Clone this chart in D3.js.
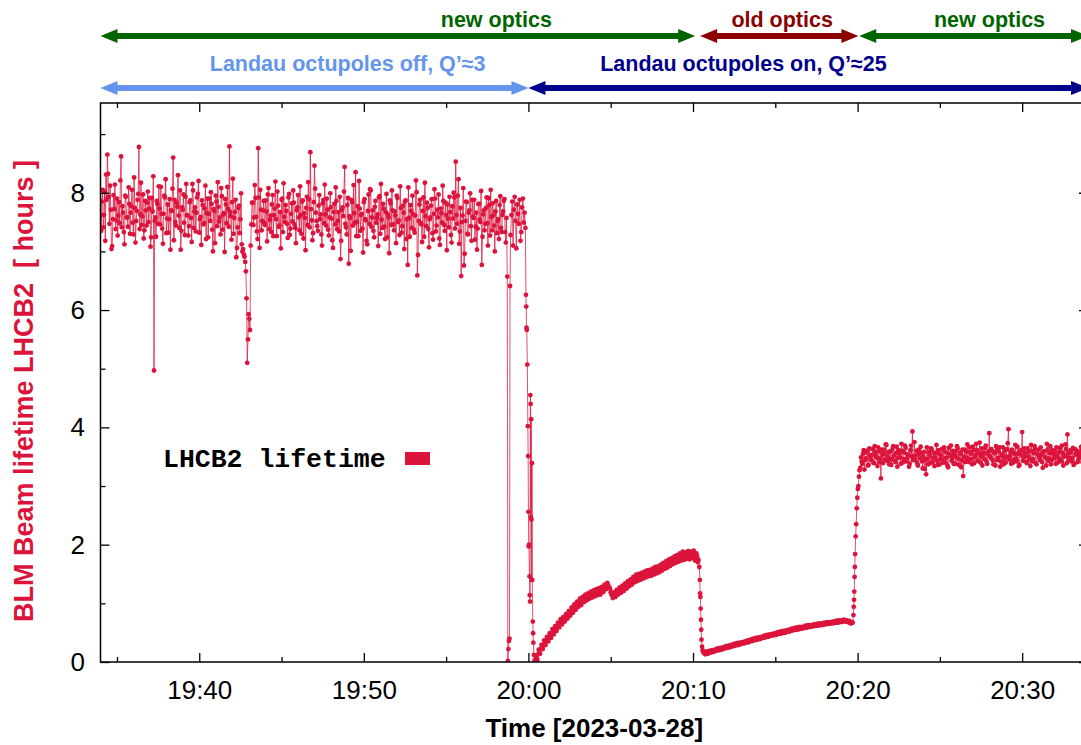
<!DOCTYPE html>
<html><head><meta charset="utf-8">
<script src="https://cdn.jsdelivr.net/npm/d3@7"></script>
<style>body{margin:0;background:#fff;} svg{display:block;}</style>
</head><body>
<svg id="chart" width="1081" height="745"></svg>
<script>
// ---------------- DATA ----------------
const dayStart = "2023-03-28 19:34:00";   // time origin, seconds below are counted from here
const axisStart = "2023-03-28 19:34:00";
const axisEnd   = "2023-03-28 20:34:00";
const yMax = 9.53;
const yMajorTicks = [0, 2, 4, 6, 8];
const yMinorTicks = [1, 3, 5, 7, 9];
const xMajorTicks = ["19:40", "19:50", "20:00", "20:10", "20:20", "20:30"];
const xMinorTicks = ["19:35", "19:45", "19:55", "20:05", "20:15", "20:25"];

// Segment A: octupoles off, samples every 5 s from 19:34:00
const segAStart = 0, segAStep = 5;
const segAValues = [
 7.62,7.85,7.41,8.02,8.31,8.65,7.93,8.12,7.04,7.55,7.72,7.38,7.90,7.61,7.48,8.62,7.77,7.33,7.95,7.58,
 7.42,7.81,7.66,8.05,7.29,7.74,7.52,7.88,8.78,7.63,7.45,7.97,7.36,7.70,7.83,7.50,7.91,7.24,7.68,4.97,
 7.58,7.86,7.47,7.73,8.10,7.39,7.64,7.92,7.31,7.80,7.55,7.03,7.69,8.60,7.88,7.44,7.76,7.61,8.04,7.35,
 7.71,7.49,7.93,7.62,7.27,7.84,7.57,8.15,7.40,7.75,7.66,7.98,7.32,7.59,7.87,7.46,7.73,7.21,7.90,7.64,
 7.52,7.81,7.00,7.69,7.95,7.43,7.76,7.58,8.08,7.37,7.65,7.89,7.48,7.72,8.79,7.60,7.84,7.30,7.67,6.90,
 7.41,7.78,7.55,7.12,7.04,6.91,6.66,5.10,5.93,5.66,7.46,7.83,7.58,7.91,7.34,8.76,7.06,7.71,7.52,7.86,
 7.45,7.68,7.97,7.38,7.61,7.80,7.26,7.73,7.55,8.02,7.42,7.67,7.88,7.33,7.59,7.79,7.47,7.92,7.28,7.64,
 7.51,7.83,7.40,7.70,7.96,7.36,7.62,7.85,7.22,7.57,7.74,7.45,7.89,8.69,7.53,7.31,8.46,7.66,7.43,7.78,
 7.55,7.29,7.82,7.48,7.63,7.90,7.37,7.58,7.75,7.19,7.67,7.46,7.86,7.52,7.34,6.87,7.71,7.60,8.44,7.41,
 7.79,6.79,7.57,7.88,7.44,7.65,8.35,7.50,7.26,7.73,7.62,7.39,7.84,7.55,7.18,7.69,7.47,8.04,7.58,7.35,
 7.76,7.49,7.63,7.92,7.30,7.54,7.81,7.42,7.67,7.24,7.58,7.87,7.45,7.70,7.36,7.61,7.95,7.50,7.28,7.74,
 7.43,7.66,7.85,7.21,6.77,7.57,7.79,7.40,7.63,7.32,8.21,6.59,7.52,7.88,7.46,7.69,7.25,7.60,7.83,7.38,
 7.55,7.78,7.31,7.64,7.90,7.44,7.58,7.22,7.73,7.49,7.86,7.35,7.62,7.80,7.41,7.67,7.15,7.56,7.92,8.53,
 7.47,8.23,7.34,6.58,7.61,6.76,7.52,7.84,7.29,7.70,7.43,7.88,7.57,7.20,7.66,7.39,7.81,7.50,6.77,7.63,
 7.36,7.74,7.48,7.91,7.27,7.59,7.82,7.44,7.68,7.31,7.55,7.79,7.40,7.62,7.86,7.33,7.57
];
// Segment A, in-between samples (offset 2.5 s)
const segA2Start = 2.5, segA2Step = 5;
const segA2Values = [
 7.35,8.05,7.62,7.18,7.88,8.32,7.47,7.71,7.09,7.96,8.14,7.53,7.27,7.84,8.21,7.41,7.66,7.12,7.93,7.58,
 8.09,7.30,7.77,7.49,8.26,7.15,7.69,7.98,7.38,8.17,7.60,7.22,7.86,7.44,8.02,7.73,7.08,7.91,8.28,7.52,
 7.25,7.81,8.11,7.46,7.64,7.13,7.95,8.23,7.56,7.32,7.89,7.70,8.07,7.19,7.50,7.83,8.30,7.40,7.03,7.75,
 7.97,7.28,8.15,7.61,7.43,7.87,7.16,8.04,7.68,7.34,7.92,8.20,7.55,7.11,7.79,7.48,8.12,7.65,7.24,7.90,
 8.01,7.37,7.72,7.14,7.85,8.18,7.51,7.29,7.94,7.63,6.99,7.80,8.10,7.42,7.67,7.20,8.24,7.57,7.88,7.06,
 7.74,7.31,7.99,7.00,6.95,6.82,6.20,5.50,5.85,7.10,7.83,7.45,8.13,7.59,7.21,7.92,8.05,7.36,7.70,7.48,
 7.87,7.17,8.08,7.54,7.33,7.96,7.62,8.19,7.26,7.78,7.44,7.05,7.90,8.16,7.50,7.69,7.23,7.98,7.39,7.82,
 8.04,7.46,7.14,7.75,7.58,8.11,7.30,7.87,7.65,7.02,7.93,8.18,7.41,7.72,7.19,7.84,8.07,7.52,7.35,7.96,
 7.63,7.10,7.88,8.14,7.44,7.71,7.27,7.99,7.56,7.06,7.81,8.09,7.38,7.67,7.93,7.18,7.75,8.02,7.47,7.29,
 7.91,7.60,7.01,7.84,8.13,7.49,7.26,7.77,8.20,7.35,7.64,6.98,7.89,7.53,7.12,7.97,8.06,7.42,7.70,7.24,
 7.86,7.57,7.09,7.94,8.15,7.40,7.73,7.21,7.98,7.63,6.97,7.82,8.04,7.46,7.68,7.14,7.91,7.53,8.11,7.32,
 7.78,7.04,7.87,7.55,8.09,7.25,7.69,7.95,7.37,7.61,8.01,6.94,7.80,7.48,7.16,7.92,8.17,7.43,7.74,7.07,
 7.58,7.89,7.20,8.06,7.34,7.71,7.97,7.11,7.65,8.12,7.45,7.83,7.02,7.56,7.93,7.28,7.77,8.00,7.39,7.62,
 7.95,7.13,7.74,7.50,8.08,6.96,7.85,7.30,7.66,7.99,7.18,7.59,7.88,7.42,7.03,7.81,7.54,8.03,7.25,7.70,
 7.47,7.92,7.10,7.79,8.05,7.36,7.61,7.00,7.86,7.52,7.21,7.94,7.33,7.68,7.89,7.15
];
// First short beam-loss spikes (irregular timing)
const drop1Times  = [1483, 1485, 1487, 1489, 1491, 1493];
const drop1Values = [6.57, 0.02, 0.22, 0.36, 0.40, 6.41];
// Segment B: short recovery before 20:00, every 3 s
const segBStart = 1495, segBStep = 3;
const segBValues = [7.28,7.62,7.85,7.10,7.71,7.93,7.52,7.05,7.80,7.64,7.47,7.88,7.18,7.33,7.75,7.90,7.49,7.66,7.40];
// Drop when octupoles switched on
const drop2Times  = [1551,1552,1553,1554,1556,1558,1559,1560,1561,1562,1564,1565,1566,1567,1568,1569,1570,1571,1572,1573,1574,1576,1577,1578,1580,1583];
const drop2Values = [6.26,6.06,5.70,5.66,5.07,4.02,3.51,2.56,1.97,2.00,1.46,1.14,1.03,4.55,4.40,2.47,4.14,2.43,1.40,3.39,1.40,0.69,0.49,0.33,0.12,0.03];
// Segment C: slow recovery, every 5 s
const segCStart = 1585, segCStep = 5;
const segCValues = [
 0.02,0.07,0.13,0.17,0.22,0.25,0.30,0.33,0.36,0.39,0.42,0.45,0.49,0.51,0.54,0.58,0.60,0.63,0.66,0.68,
 0.70,0.74,0.75,0.78,0.81,0.83,0.87,0.88,0.91,0.94,0.95,0.99,1.01,1.03,1.04,1.07,1.08,1.11,1.10,1.13,
 1.15,1.14,1.17,1.16,1.19,1.18,1.21,1.19,1.22,1.24,1.26,1.28,1.30,1.32,1.27,1.19,1.14,1.13,1.15,1.17,
 1.19,1.21,1.23,1.22,1.26,1.27,1.30,1.31,1.33,1.35,1.37,1.38,1.41,1.42,1.44,1.43,1.46,1.45,1.48,1.47,
 1.50,1.48,1.51,1.52,1.50,1.53,1.55,1.54,1.57,1.58,1.56,1.60,1.62,1.61,1.64,1.66,1.65,1.69,1.70,1.68,
 1.72,1.74,1.73,1.76,1.75,1.79,1.77,1.80,1.78,1.82,1.79,1.84,1.80,1.83,1.78,1.85,1.81,1.76,1.80,1.74
];
const segC2Start = 1587.5, segC2Step = 5;
const segC2Values = [
 0.10,0.04,0.21,0.14,0.29,0.22,0.37,0.29,0.43,0.35,
 0.49,0.41,0.56,0.47,0.61,0.53,0.67,0.59,0.73,0.64,
 0.77,0.69,0.82,0.74,0.87,0.79,0.93,0.84,0.98,0.89,
 1.03,0.94,1.08,0.97,1.11,1.02,1.15,1.05,1.17,1.08,
 1.20,1.10,1.22,1.12,1.24,1.14,1.26,1.15,1.28,1.19,
 1.32,1.24,1.35,1.28,1.25,1.16,1.09,1.19,1.11,1.23,
 1.15,1.27,1.18,1.30,1.21,1.34,1.25,1.38,1.29,1.41,
 1.32,1.45,1.36,1.49,1.38,1.50,1.40,1.52,1.42,1.54,
 1.44,1.56,1.46,1.57,1.47,1.59,1.49,1.62,1.51,1.63,
 1.53,1.66,1.56,1.69,1.59,1.72,1.61,1.75,1.64,1.77,
 1.67,1.80,1.69,1.82,1.71,1.85,1.73,1.88,1.74,1.87,
 1.76,1.89,1.75,1.88,1.77,1.90,1.73,1.85,1.70
];
// Drop at the optics change (old optics)
const drop3Times  = [2183,2185,2186,2187,2188,2189,2190,2191,2193,2195,2198];
const drop3Values = [1.62,1.40,1.17,1.11,0.91,0.72,0.55,0.38,0.26,0.20,0.16];
// Segment D: old optics, every 5 s
const segDStart = 2202, segDStep = 5;
const segDValues = [
 0.15,0.15,0.16,0.17,0.17,0.18,0.19,0.19,0.20,0.21,
 0.21,0.22,0.23,0.22,0.24,0.25,0.24,0.26,0.27,0.26,
 0.28,0.27,0.29,0.29,0.30,0.31,0.30,0.32,0.33,0.32,
 0.34,0.35,0.34,0.36,0.37,0.36,0.38,0.39,0.38,0.40,
 0.41,0.40,0.42,0.43,0.42,0.44,0.45,0.44,0.46,0.45,
 0.46,0.47,0.46,0.48,0.49,0.48,0.50,0.50,0.51,0.50,
 0.52,0.53,0.52,0.54,0.54,0.55,0.56,0.55,0.57,0.56,
 0.58,0.57,0.58,0.59,0.60,0.59,0.60,0.61,0.60,0.62,
 0.61,0.62,0.63,0.62,0.63,0.64,0.63,0.65,0.64,0.65,
 0.66,0.65,0.66,0.67,0.66,0.67,0.68,0.67,0.68,0.69,
 0.68,0.69,0.70,0.69,0.70,0.69,0.67,0.66,0.67
];
const segD2Start = 2204.5, segD2Step = 5;
const segD2Values = [
 0.13,0.18,0.14,0.19,0.16,0.20,0.17,0.21,0.19,0.23,
 0.20,0.24,0.21,0.25,0.23,0.27,0.24,0.28,0.25,0.29,
 0.27,0.31,0.28,0.32,0.29,0.33,0.31,0.34,0.32,0.35,
 0.33,0.37,0.34,0.38,0.36,0.40,0.37,0.41,0.38,0.42,
 0.39,0.43,0.41,0.45,0.42,0.46,0.43,0.47,0.45,0.48,
 0.46,0.49,0.47,0.51,0.48,0.52,0.49,0.53,0.50,0.54,
 0.52,0.55,0.53,0.57,0.54,0.58,0.55,0.59,0.56,0.60,
 0.57,0.60,0.58,0.62,0.59,0.63,0.60,0.63,0.61,0.64,
 0.62,0.65,0.63,0.66,0.63,0.66,0.64,0.67,0.65,0.68,
 0.65,0.68,0.66,0.69,0.67,0.70,0.67,0.71,0.68,0.71,
 0.69,0.72,0.70,0.71,0.68,0.70,0.66,0.68
];
// Rise back to new optics
const riseTimes  = [2745,2746,2747,2748,2749,2750,2751,2753,2755,2757,2759,2761,2763,2765,2767];
const riseValues = [0.80,0.94,1.06,1.20,1.45,1.62,1.84,2.14,2.35,2.62,2.80,2.95,3.00,3.16,3.27];
// Segment E: new optics, octupoles on, every 5 s
const segEStart = 2770, segEStep = 5;
const segEValues = [
 3.31,3.42,3.55,3.28,3.47,3.60,3.36,3.52,3.44,3.63,3.39,3.58,3.48,3.66,3.41,3.13,3.54,3.62,3.45,3.70,
 3.50,3.37,3.59,3.46,3.68,3.43,3.56,3.33,3.61,3.49,3.72,3.40,3.57,3.65,3.47,3.53,3.38,3.69,3.93,3.51,
 3.44,3.60,3.35,3.55,3.67,3.42,3.50,3.29,3.20,3.46,3.58,3.39,3.63,3.48,3.34,3.56,3.43,3.61,3.37,3.52,
 3.45,3.66,3.40,3.57,3.32,3.54,3.69,3.47,3.38,3.59,3.50,3.64,3.36,3.55,3.44,3.17,3.62,3.49,3.71,3.41,
 3.58,3.46,3.67,3.39,3.53,3.61,3.43,3.74,3.50,3.35,3.57,3.65,3.42,3.54,3.90,3.48,3.60,3.37,3.56,3.68,
 3.44,3.59,3.33,3.52,3.66,3.47,3.40,3.63,3.97,3.51,3.38,3.58,3.45,3.70,3.42,3.55,3.36,3.61,3.92,3.49,
 3.57,3.41,3.64,3.50,3.34,3.60,3.46,3.68,3.39,3.55,3.62,3.44,3.53,3.31,3.59,3.48,3.72,3.43,3.56,3.37,
 3.61,3.47,3.54,3.66,3.40,3.58,3.45,3.69,3.35,3.52,3.63,3.88,3.49,3.57,3.42,3.65,3.38,3.55,3.60,3.46,
 3.53,3.67,3.41,3.58,3.36,3.62,3.50
];
const segE2Start = 2772.5, segE2Step = 5;
const segE2Values = [
 3.49,3.38,3.61,3.44,3.57,3.35,3.64,3.46,3.53,3.40,3.68,3.51,3.34,3.59,3.47,3.62,3.39,3.55,3.71,3.43,
 3.58,3.45,3.36,3.63,3.52,3.41,3.67,3.48,3.56,3.38,3.60,3.46,3.69,3.42,3.54,3.33,3.61,3.50,3.44,3.75,
 3.52,3.39,3.62,3.47,3.56,3.30,3.58,3.45,3.66,3.37,3.53,3.64,3.41,3.57,3.49,3.70,3.36,3.55,3.46,3.63,
 3.40,3.59,3.48,3.35,3.65,3.51,3.43,3.60,3.54,3.38,3.68,3.46,3.57,3.32,3.62,3.50,3.41,3.58,3.47,3.66,
 3.55,3.37,3.61,3.49,3.72,3.43,3.56,3.40,3.64,3.52,3.46,3.69,3.38,3.59,3.51,3.63,3.44,3.57,3.35,3.61,
 3.48,3.66,3.42,3.54,3.37,3.60,3.50,3.73,3.45,3.58,3.62,3.40,3.55,3.47,3.67,3.34,3.59,3.52,3.43,3.64,
 3.51,3.39,3.58,3.46,3.70,3.42,3.56,3.63,3.37,3.53,3.48,3.66,3.41,3.59,3.50,3.35,3.62,3.47,3.68,3.44,
 3.55,3.60,3.38,3.52,3.47,3.65,3.42,3.57,3.50,3.71,3.39,3.56,3.44,3.61,3.48,3.36,3.63,3.53,3.41,3.58,
 3.49,3.64,3.45,3.56,3.40,3.60
];

// Annotation arrows
const opticsLabels = ["new optics", "old optics", "new optics"];
const opticsStarts = ["19:34:00", "20:10:26", "20:20:06"];
const opticsEnds   = ["20:10:08", "20:20:03", "20:34:00"];
const opticsLabelAt = ["19:58:03", "20:15:25", "20:28:01"];
const octLabels = ["Landau octupoles off, Q\u2019\u22483", "Landau octupoles on, Q\u2019\u224825"];
const octStarts = ["19:34:00", "20:00:00"];
const octEnds   = ["20:00:00", "20:34:00"];
const octLabelAt = ["19:49:01", "20:13:04"];

const seriesName = "LHCB2 lifetime";
const xTitle = "Time [2023-03-28]";
const yTitle = "BLM Beam lifetime LHCB2  [ hours ]";

// ---------------- STYLE ----------------
const C = { data: "#dc143c", green: "#006400", red: "#8b0000", lblue: "#6495ed", dblue: "#00008b" };
const opticsColors = [C.green, C.red, C.green];
const octColors = [C.lblue, C.dblue];
const SANS = "'Liberation Sans', Arial, Helvetica, sans-serif";

// ---------------- BUILD ----------------
const parseFull = d3.timeParse("%Y-%m-%d %H:%M:%S");
const t0 = parseFull(dayStart);
const atSec = s => new Date(t0.getTime() + s * 1000);
const atClock = hms => parseFull("2023-03-28 " + (hms.length === 5 ? hms + ":00" : hms));

const uniform = (start, step, vals) => vals.map((v, i) => ({ t: atSec(start + i * step), v }));
const explicit = (ts, vals) => vals.map((v, i) => ({ t: atSec(ts[i]), v }));

const points = [].concat(
  uniform(segAStart, segAStep, segAValues),
  uniform(segA2Start, segA2Step, segA2Values),
  explicit(drop1Times, drop1Values),
  uniform(segBStart, segBStep, segBValues),
  explicit(drop2Times, drop2Values),
  uniform(segCStart, segCStep, segCValues),
  uniform(segC2Start, segC2Step, segC2Values),
  explicit(drop3Times, drop3Values),
  uniform(segDStart, segDStep, segDValues),
  uniform(segD2Start, segD2Step, segD2Values),
  explicit(riseTimes, riseValues),
  uniform(segEStart, segEStep, segEValues),
  uniform(segE2Start, segE2Step, segE2Values)
).sort((a, b) => a.t - b.t);

const L = 100.5, R = 1088, T = 103, B = 662;
const svg = d3.select("#chart");
const x = d3.scaleTime().domain([parseFull(axisStart), parseFull(axisEnd)]).range([L, R]);
const y = d3.scaleLinear().domain([0, yMax]).range([B, T]);

svg.append("defs").append("clipPath").attr("id", "plotclip")
  .append("rect").attr("x", L).attr("y", T).attr("width", R - L).attr("height", B - T);

const g = svg.append("g").attr("clip-path", "url(#plotclip)");
const line = d3.line().x(d => x(d.t)).y(d => y(d.v));
g.append("path").datum(points).attr("d", line)
  .attr("fill", "none").attr("stroke", C.data).attr("stroke-width", 1).attr("stroke-opacity", 0.75);
g.selectAll("circle").data(points).join("circle")
  .attr("cx", d => x(d.t)).attr("cy", d => y(d.v)).attr("r", 2.4).attr("fill", C.data);

// axes (ticks inward, gnuplot style)
function styleAxis(sel) {
  sel.select(".domain").remove();
  sel.selectAll(".tick line").attr("stroke", "#000").attr("stroke-width", 1.3);
  sel.selectAll("text").attr("font-family", SANS).attr("font-size", 26).attr("fill", "#000");
}
const fmt = d3.timeFormat("%H:%M");
svg.append("g").attr("transform", `translate(0,${B})`)
  .call(d3.axisBottom(x).tickValues(xMajorTicks.map(atClock)).tickFormat(fmt).tickSizeInner(-9).tickSizeOuter(0).tickPadding(18.5))
  .call(styleAxis);
svg.append("g").attr("transform", `translate(0,${B})`)
  .call(d3.axisBottom(x).tickValues(xMinorTicks.map(atClock)).tickFormat("").tickSizeInner(-5).tickSizeOuter(0))
  .call(styleAxis);
svg.append("g").attr("transform", `translate(0,${T})`)
  .call(d3.axisTop(x).tickValues(xMajorTicks.map(atClock)).tickFormat("").tickSizeInner(-9).tickSizeOuter(0))
  .call(styleAxis);
svg.append("g").attr("transform", `translate(0,${T})`)
  .call(d3.axisTop(x).tickValues(xMinorTicks.map(atClock)).tickFormat("").tickSizeInner(-5).tickSizeOuter(0))
  .call(styleAxis);
svg.append("g").attr("transform", `translate(${L},0)`)
  .call(d3.axisLeft(y).tickValues(yMajorTicks).tickFormat(d3.format("d")).tickSizeInner(-9).tickSizeOuter(0).tickPadding(15.5))
  .call(styleAxis);
svg.append("g").attr("transform", `translate(${L},0)`)
  .call(d3.axisLeft(y).tickValues(yMinorTicks).tickFormat("").tickSizeInner(-5).tickSizeOuter(0))
  .call(styleAxis);
svg.append("g").attr("transform", `translate(${R},0)`)
  .call(d3.axisRight(y).tickValues(yMajorTicks).tickFormat("").tickSizeInner(-9).tickSizeOuter(0))
  .call(styleAxis);
svg.append("g").attr("transform", `translate(${R},0)`)
  .call(d3.axisRight(y).tickValues(yMinorTicks).tickFormat("").tickSizeInner(-5).tickSizeOuter(0))
  .call(styleAxis);

svg.append("rect").attr("x", L).attr("y", T).attr("width", R - L).attr("height", B - T)
  .attr("fill", "none").attr("stroke", "#000").attr("stroke-width", 1.5);

// axis titles
svg.append("text").attr("x", (L + R) / 2).attr("y", 737).attr("text-anchor", "middle")
  .attr("font-family", SANS).attr("font-weight", "bold").attr("font-size", 26).text(xTitle);
svg.append("text").attr("transform", "translate(33,391) rotate(-90)").attr("text-anchor", "middle")
  .attr("font-family", SANS).attr("font-weight", "bold").attr("font-size", 27).attr("fill", C.data)
  .style("white-space", "pre").text(yTitle);

// legend
svg.append("text").attr("x", 163).attr("y", 467).attr("font-family", "'Liberation Mono', 'Courier New', monospace")
  .attr("font-weight", "bold").attr("font-size", 26.5).style("white-space", "pre").text(seriesName);
svg.append("rect").attr("x", 405).attr("y", 452).attr("width", 25).attr("height", 13).attr("fill", C.data);

// annotation arrows
function arrow(x1, x2, yy, color) {
  const hl = 17, hw = 7;
  svg.append("line").attr("x1", x1 + hl - 1).attr("x2", x2 - hl + 1).attr("y1", yy).attr("y2", yy)
    .attr("stroke", color).attr("stroke-width", 6);
  svg.append("path").attr("d", `M${x1},${yy} L${x1 + hl},${yy - hw} L${x1 + hl},${yy + hw} Z`).attr("fill", color);
  svg.append("path").attr("d", `M${x2},${yy} L${x2 - hl},${yy - hw} L${x2 - hl},${yy + hw} Z`).attr("fill", color);
}
function label(txt, cx, yy, color) {
  svg.append("text").attr("x", cx).attr("y", yy).attr("text-anchor", "middle")
    .attr("font-family", SANS).attr("font-weight", "bold").attr("font-size", 21.5).attr("fill", color).text(txt);
}
opticsLabels.forEach((lab, i) => {
  arrow(x(atClock(opticsStarts[i])), x(atClock(opticsEnds[i])), 36, opticsColors[i]);
  label(lab, x(atClock(opticsLabelAt[i])), 27, opticsColors[i]);
});
octLabels.forEach((lab, i) => {
  arrow(x(atClock(octStarts[i])), x(atClock(octEnds[i])), 88, octColors[i]);
  label(lab, x(atClock(octLabelAt[i])), 71, octColors[i]);
});
</script>
</body></html>
